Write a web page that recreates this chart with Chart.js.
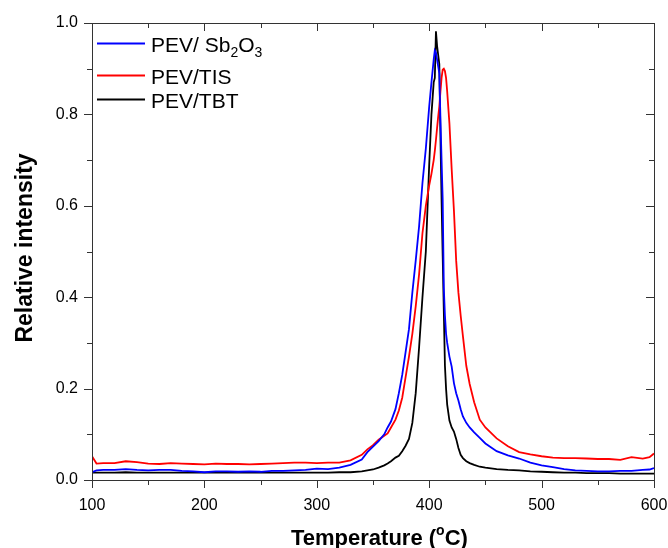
<!DOCTYPE html>
<html>
<head>
<meta charset="utf-8">
<script src="https://cdn.jsdelivr.net/npm/chart.js@4/dist/chart.umd.min.js"></script>
<style>
  html, body { margin: 0; padding: 0; background: #fff; }
  #wrap { width: 668px; height: 548px; }
</style>
</head>
<body>
<div id="wrap"><canvas id="chart_tpd"></canvas></div>
<script>
// temperature (°C)
var temps = [
  100,104,110,120,130,140,150,160,170,180,
  190,200,210,220,230,240,250,260,270,280,
  290,300,310,320,330,340,345,350,355,360,
  363,366,370,373,376,379,382,385,388,391,
  394,397,400,402,404,405,406,407,408,409,
  410,411,412,413,414,415,416,418,420,422,
  424,426,428,430,433,436,440,445,450,460,
  470,480,490,500,510,520,530,540,550,560,
  570,580,590,596,600
]
// PEV/ Sb2O3
var sb2o3 = [
  .017,.021,.022,.022,.024,.022,.021,.022,.022,.020,
  .019,.017,.019,.019,.018,.019,.018,.020,.020,.021,
  .022,.025,.024,.027,.033,.045,.061,.073,.085,.100,
  .115,.128,.155,.19,.23,.28,.33,.41,.48,.555,
  .65,.725,.817,.87,.92,.94,.935,.92,.905,.89,
  .79,.70,.613,.42,.36,.32,.30,.27,.248,.212,
  .19,.174,.155,.139,.125,.115,.104,.092,.08,.063,
  .054,.047,.038,.032,.028,.024,.021,.020,.019,.019,
  .020,.020,.022,.023,.026
]
// PEV/TIS
var tis = [
  .052,.036,.037,.037,.041,.039,.036,.035,.037,.036,
  .035,.034,.036,.035,.035,.034,.035,.036,.037,.038,
  .038,.037,.038,.038,.043,.055,.067,.076,.088,.097,
  .102,.115,.132,.152,.18,.225,.27,.32,.38,.45,
  .54,.60,.645,.67,.70,.72,.744,.77,.795,.817,
  .85,.88,.898,.90,.895,.88,.85,.78,.68,.59,
  .48,.41,.36,.315,.25,.21,.17,.132,.115,.091,
  .074,.061,.056,.052,.049,.048,.048,.047,.046,.046,
  .044,.05,.047,.05,.058
]
// PEV/TBT
var tbt = [
  .016,.016,.016,.016,.017,.016,.016,.016,.016,.016,
  .016,.016,.016,.016,.016,.016,.016,.016,.016,.016,
  .016,.016,.016,.017,.017,.019,.021,.023,.027,.032,
  .036,.041,.049,.053,.063,.075,.09,.125,.19,.29,
  .40,.50,.69,.80,.87,.88,.982,.95,.93,.91,
  .75,.613,.49,.37,.25,.20,.165,.13,.115,.106,
  .09,.07,.055,.048,.041,.037,.033,.029,.027,.024,
  .022,.021,.019,.018,.017,.016,.016,.015,.015,.015,
  .014,.014,.014,.014,.014
]
var xTicks = [100, 200, 300, 400, 500, 600]
var yTicks = [0, 0.2, 0.4, 0.6, 0.8, 1.0]

var FONT = "'Liberation Sans', Arial, Helvetica, sans-serif"

function pts(vals){
  return temps.map(function(t, i){ return {x: t, y: vals[i]} })
}

// legend entries: text parts, [string, isSubscript]
var legendItems = [
  {color: "#0000ff", parts: [["PEV/ Sb",0],["2",1],["O",0],["3",1]]},
  {color: "#ff0000", parts: [["PEV/TIS",0]]},
  {color: "#000000", parts: [["PEV/TBT",0]]}
]

var framePlugin = {
  id: "frame",
  afterDraw: function(chart){
    var ctx = chart.ctx, a = chart.chartArea
    var xs = chart.scales.x, ys = chart.scales.y
    ctx.save()
    ctx.strokeStyle = "#333"
    ctx.lineWidth = 1
    ctx.strokeRect(Math.round(a.left)+0.5, Math.round(a.top)+0.5, Math.round(a.right-a.left), Math.round(a.bottom-a.top))
    ctx.beginPath()
    for (var v = 100; v <= 600; v += 50){
      var len = (v % 100 === 0) ? 8 : 5
      var px = Math.round(xs.getPixelForValue(v)) + 0.5
      ctx.moveTo(px, a.bottom); ctx.lineTo(px, a.bottom + len)
      ctx.moveTo(px, a.top); ctx.lineTo(px, a.top + len)
    }
    for (var k = 0; k <= 10; k++){
      var yv = k / 10
      var l2 = (k % 2 === 0) ? 8 : 5
      var py = Math.round(ys.getPixelForValue(yv)) + 0.5
      ctx.moveTo(a.left, py); ctx.lineTo(a.left - l2, py)
      ctx.moveTo(a.right, py); ctx.lineTo(a.right - l2, py)
    }
    ctx.stroke()

    // legend
    ctx.fillStyle = "#000"
    ctx.textBaseline = "alphabetic"
    ctx.textAlign = "left"
    var lineYs = [43.5, 75.5, 99.5]
    legendItems.forEach(function(it, i){
      ctx.strokeStyle = it.color
      ctx.lineWidth = 1.8
      ctx.beginPath()
      ctx.moveTo(97, lineYs[i]); ctx.lineTo(145, lineYs[i])
      ctx.stroke()
      var x = 151, base = lineYs[i] + 8.5
      it.parts.forEach(function(p){
        if (p[1]) {
          ctx.font = "14px " + FONT
          ctx.fillText(p[0], x, base + 5)
        } else {
          ctx.font = "21px " + FONT
          ctx.fillText(p[0], x, base)
        }
        x += ctx.measureText(p[0]).width
      })
    })

    // axis titles
    ctx.font = "bold 22px " + FONT
    var t1 = "Temperature (", t2 = "C)"
    var x0 = 291
    ctx.fillText(t1, x0, 545)
    x0 += ctx.measureText(t1).width
    ctx.font = "bold 14px " + FONT
    ctx.fillText("o", x0, 535)
    x0 += ctx.measureText("o").width
    ctx.font = "bold 22px " + FONT
    ctx.fillText(t2, x0, 545)

    ctx.translate(32, 248)
    ctx.rotate(-Math.PI/2)
    ctx.textAlign = "center"
    ctx.font = "bold 23px " + FONT
    ctx.fillText("Relative intensity", 0, 0)
    ctx.restore()
  }
}

var ctx = document.getElementById("chart_tpd")
var myChart = new Chart(ctx, {
  type: "line",
  data: {
    datasets: [
      {label: "PEV/ Sb2O3", data: pts(sb2o3), borderColor: "#0000ff"},
      {label: "PEV/TIS", data: pts(tis), borderColor: "#ff0000"},
      {label: "PEV/TBT", data: pts(tbt), borderColor: "#000000"}
    ]
  },
  options: {
    responsive: true,
    maintainAspectRatio: false,
    animation: false,
    parsing: false,
    elements: {
      point: {radius: 0},
      line: {borderWidth: 1.8, tension: 0, fill: false}
    },
    layout: {padding: {top: 23, right: 14, left: 0, bottom: 0}},
    plugins: {legend: {display: false}, tooltip: {enabled: false}},
    scales: {
      x: {
        type: "linear", min: 100, max: 600,
        afterBuildTicks: function(s){ s.ticks = xTicks.map(function(v){ return {value: v} }) },
        afterFit: function(s){ s.height = 68; s.paddingLeft = 0; s.paddingRight = 0 },
        grid: {display: false, drawTicks: false},
        border: {display: false},
        ticks: {color: "#000", padding: 16, font: {family: FONT, size: 16}, maxRotation: 0}
      },
      y: {
        min: 0, max: 1,
        afterBuildTicks: function(s){ s.ticks = yTicks.map(function(v){ return {value: v} }) },
        afterFit: function(s){ s.width = 92; s.paddingTop = 0; s.paddingBottom = 0 },
        grid: {display: false, drawTicks: false},
        border: {display: false},
        ticks: {color: "#000", padding: 14, font: {family: FONT, size: 16},
          callback: function(v){ return v.toFixed(1) }}
      }
    }
  },
  plugins: [framePlugin]
})
</script>
</body>
</html>
